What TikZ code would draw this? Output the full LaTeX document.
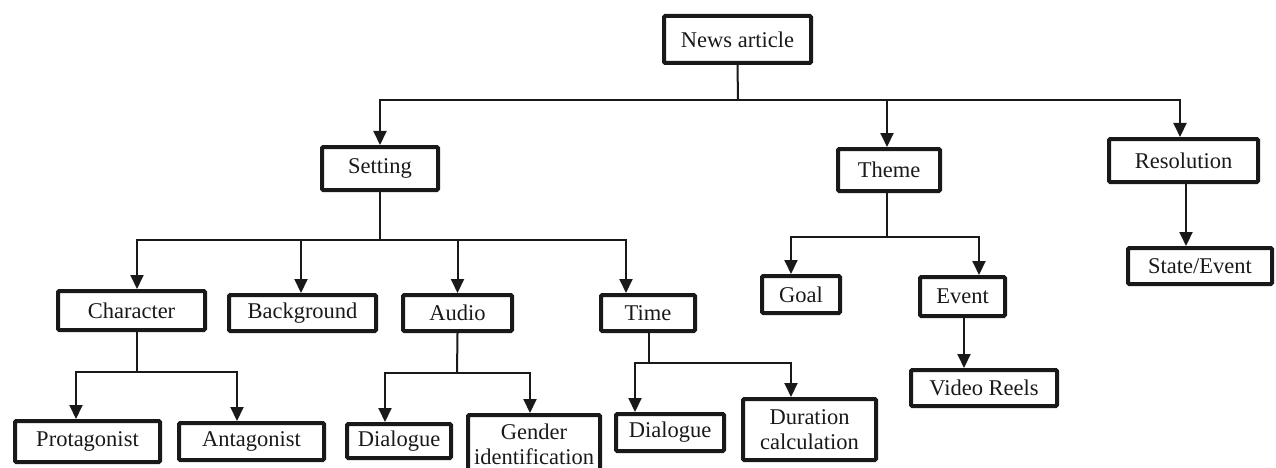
\documentclass[tikz,border=0pt]{standalone}
\usepackage{fontspec}
\setmainfont{Liberation Serif}
\newfontfamily\tnrfont{Liberation Serif}
\usetikzlibrary{arrows.meta}
\begin{document}
\begin{tikzpicture}[x=1pt,y=-1pt,
  box/.style={draw=black!90,line width=4pt,rounded corners=1.2pt,inner sep=0pt,align=center,
    font=\tnrfont\fontsize{22.5}{25}\selectfont,text=black!90},
  conn/.style={line width=2pt,draw=black!90},
  arr/.style={conn,-{Triangle[width=13pt,length=14pt]}}]
\useasboundingbox (0,0) rectangle (1276,468);
% nodes
\node[box,minimum width=147pt,minimum height=47pt] (news) at (737.5,39.5) {News article};
\node[box,minimum width=116pt,minimum height=43pt] (setting) at (380,168.5) {Setting};
\node[box,minimum width=102pt,minimum height=42pt] (theme) at (889,170) {Theme};
\node[box,minimum width=149pt,minimum height=43pt] (resolution) at (1183.5,160.5) {Resolution};
\node[box,minimum width=147pt,minimum height=39pt] (character) at (131.5,310.5) {Character};
\node[box,minimum width=147pt,minimum height=36pt] (background) at (302.5,313) {Background};
\node[box,minimum width=109pt,minimum height=36pt] (audio) at (457.5,313) {Audio};
\node[box,minimum width=94pt,minimum height=36pt] (time) at (648,313) {Time};
\node[box,minimum width=78pt,minimum height=37pt] (goal) at (801,294.5) {Goal};
\node[box,minimum width=85pt,minimum height=39pt] (event) at (962.5,296.5) {Event};
\node[box,minimum width=144pt,minimum height=36pt] (state) at (1200,266) {State/Event};
\node[box,minimum width=146pt,minimum height=36pt] (video) at (984,388) {Video Reels};
\node[box,minimum width=145pt,minimum height=41pt] (prot) at (87.5,441.5) {Protagonist};
\node[box,minimum width=145pt,minimum height=37pt] (anta) at (251.5,441.5) {Antagonist};
\node[box,minimum width=104pt,minimum height=34pt] (dial1) at (399,441) {Dialogue};
\node[box,minimum width=132pt,minimum height=59pt] (gender) at (534,444.5) {Gender\\identification};
\node[box,minimum width=108pt,minimum height=37pt] (dial2) at (670,432.5) {Dialogue};
\node[box,minimum width=133pt,minimum height=61pt] (duration) at (809.5,429.5) {Duration\\calculation};
% junctions
\coordinate (j1) at (738,100);
\coordinate (j2) at (380,240);
\coordinate (j3) at (137,372);
\coordinate (j4) at (457,373);
\coordinate (j5) at (649,363);
\coordinate (j6) at (887,237);
% connectors
\draw[conn] (news.south) -- (j1);
\draw[arr] (j1) -| (setting.north);
\draw[arr] (j1) -| ([xshift=-2pt]theme.north);
\draw[arr] (j1) -| ([xshift=-3.5pt]resolution.north);

\draw[conn] (setting.south) -- (j2);
\draw[arr] (j2) -| ([xshift=5.5pt]character.north);
\draw[arr] (j2) -| ([xshift=-1.5pt]background.north);
\draw[arr] (j2) -| (audio.north);
\draw[arr] (j2) -| ([xshift=-22pt]time.north);

\draw[conn] ([xshift=5.5pt]character.south) -- (j3);
\draw[arr] (j3) -| ([xshift=-11.5pt]prot.north);
\draw[arr] (j3) -| ([xshift=-14.5pt]anta.north);

\draw[conn] (audio.south) -- (j4);
\draw[arr] (j4) -| ([xshift=-14pt]dial1.north);
\draw[arr] (j4) -| ([xshift=-4pt]gender.north);

\draw[conn] ([xshift=1pt]time.south) -- (j5);
\draw[arr] (j5) -| ([xshift=-35pt]dial2.north);
\draw[arr] (j5) -| ([xshift=-18.5pt]duration.north);

\draw[conn] ([xshift=-2pt]theme.south) -- (j6);
\draw[arr] (j6) -| ([xshift=-10pt]goal.north);
\draw[arr] (j6) -| ([xshift=16.5pt]event.north);

\draw[arr] ([xshift=1.5pt]event.south) -- ([xshift=-20pt]video.north);
\draw[arr] ([xshift=2.5pt]resolution.south) -- ([xshift=-14pt]state.north);
\end{tikzpicture}
\end{document}
